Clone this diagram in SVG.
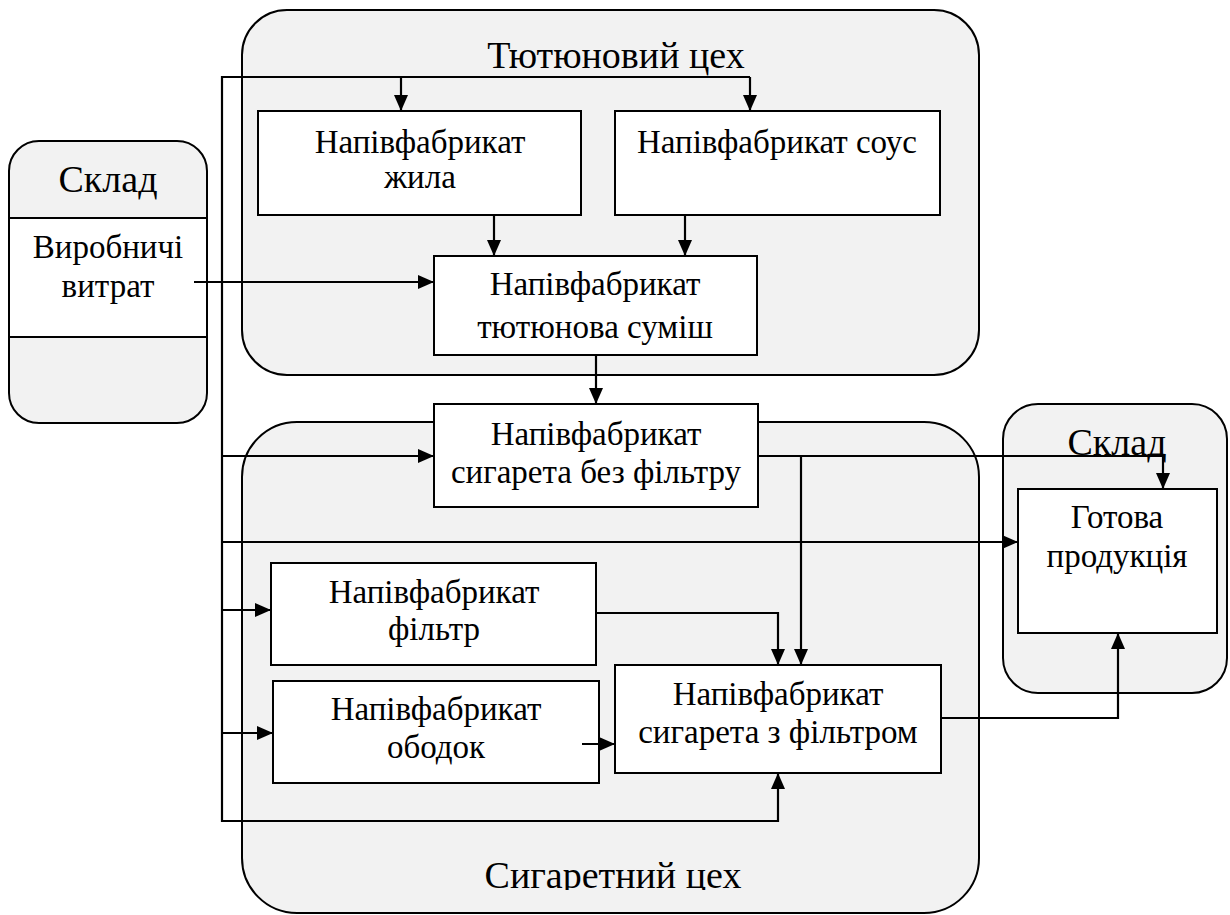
<svg xmlns="http://www.w3.org/2000/svg" width="1230" height="915" viewBox="0 0 1230 915">
<defs>
<marker id="ah" viewBox="0 0 16 14" refX="16" refY="7" markerWidth="16" markerHeight="14" markerUnits="userSpaceOnUse" orient="auto">
<path d="M0,0 L16,7 L0,14 z" fill="#000"/>
</marker>
<clipPath id="clipBottom"><rect x="0" y="0" width="1230" height="890"/></clipPath>
</defs>
<style>
.cont{fill:#f2f2f2;stroke:#000;stroke-width:2}
.box{fill:#fff;stroke:#000;stroke-width:2}
.t{font-family:"Liberation Serif","DejaVu Serif",serif;font-size:33px;text-anchor:middle;fill:#000}
.title{font-family:"Liberation Serif","DejaVu Serif",serif;font-size:38px;text-anchor:middle;fill:#000}
.ln{fill:none;stroke:#000;stroke-width:2.2}
.ar{fill:none;stroke:#000;stroke-width:2.2;marker-end:url(#ah)}
</style>
<rect width="1230" height="915" fill="#fff"/>

<g id="tobacco-shop">
<rect class="cont" x="242" y="10" width="737" height="365" rx="45" ry="45"/>
<text class="title" x="616" y="68">Тютюновий цех</text>
</g>

<g id="cigarette-shop">
<rect class="cont" x="242" y="422" width="737" height="491" rx="55" ry="55"/>
<text class="title" x="613" y="888" clip-path="url(#clipBottom)">Сигаретний цех</text>
</g>

<g id="warehouse-left">
<rect class="cont" x="9" y="141" width="198" height="282" rx="30" ry="30"/>
<rect x="10" y="218" width="196" height="119" fill="#fff"/>
<line class="ln" x1="9" y1="218" x2="207" y2="218"/>
<line class="ln" x1="9" y1="337" x2="207" y2="337"/>
<text class="title" x="108" y="192">Склад</text>
<text class="t" x="108" y="258">Виробничі</text>
<text class="t" x="108" y="297">витрат</text>
</g>

<g id="warehouse-right">
<rect class="cont" x="1003" y="404" width="224" height="289" rx="35" ry="35"/>
<text class="title" x="1117" y="455">Склад</text>
</g>

<g id="node-zhyla">
<rect class="box" x="258" y="111" width="323" height="104"/>
<text class="t" x="420" y="153">Напівфабрикат</text>
<text class="t" x="420" y="188">жила</text>
</g>

<g id="node-sous">
<rect class="box" x="615" y="111" width="325" height="104"/>
<text class="t" x="777" y="153">Напівфабрикат соус</text>
</g>

<g id="node-sumish">
<rect class="box" x="434" y="256" width="323" height="99"/>
<text class="t" x="595" y="295">Напівфабрикат</text>
<text class="t" x="595" y="338">тютюнова суміш</text>
</g>

<g id="node-bez-filtru">
<rect class="box" x="434" y="404" width="324" height="103"/>
<text class="t" x="596" y="445">Напівфабрикат</text>
<text class="t" x="596" y="483">сигарета без фільтру</text>
</g>

<g id="node-filtr">
<rect class="box" x="271" y="563" width="325" height="102"/>
<text class="t" x="434" y="603">Напівфабрикат</text>
<text class="t" x="434" y="640">фільтр</text>
</g>

<g id="node-obodok">
<rect class="box" x="273" y="681" width="326" height="102"/>
<text class="t" x="436" y="720">Напівфабрикат</text>
<text class="t" x="436" y="758">ободок</text>
</g>

<g id="node-z-filtrom">
<rect class="box" x="615" y="665" width="326" height="108"/>
<text class="t" x="778" y="705">Напівфабрикат</text>
<text class="t" x="778" y="743">сигарета з фільтром</text>
</g>

<g id="node-gotova">
<rect class="box" x="1018" y="489" width="199" height="144"/>
<text class="t" x="1117" y="528">Готова</text>
<text class="t" x="1117" y="567">продукція</text>
</g>

<g id="connectors">
<polyline class="ln" points="222,822 222,77 750,77"/>
<line class="ar" x1="401" y1="77" x2="401" y2="111"/>
<line class="ar" x1="750" y1="77" x2="750" y2="111"/>
<line class="ar" x1="494" y1="215" x2="494" y2="256"/>
<line class="ar" x1="685" y1="215" x2="685" y2="256"/>
<line class="ar" x1="194" y1="282" x2="434" y2="282"/>
<line class="ar" x1="596" y1="355" x2="596" y2="404"/>
<line class="ar" x1="222" y1="456" x2="434" y2="456"/>
<polyline class="ar" points="758,456 1163,456 1163,489"/>
<line class="ar" x1="801" y1="456" x2="801" y2="665"/>
<line class="ar" x1="222" y1="542" x2="1018" y2="542"/>
<line class="ar" x1="221" y1="610" x2="271" y2="610"/>
<polyline class="ar" points="596,613 778,613 778,665"/>
<line class="ar" x1="221" y1="733" x2="273" y2="733"/>
<line class="ar" x1="582" y1="744" x2="615" y2="744"/>
<polyline class="ar" points="222,821 778,821 778,773"/>
<polyline class="ar" points="941,718 1118,718 1118,633"/>
</g>
</svg>
